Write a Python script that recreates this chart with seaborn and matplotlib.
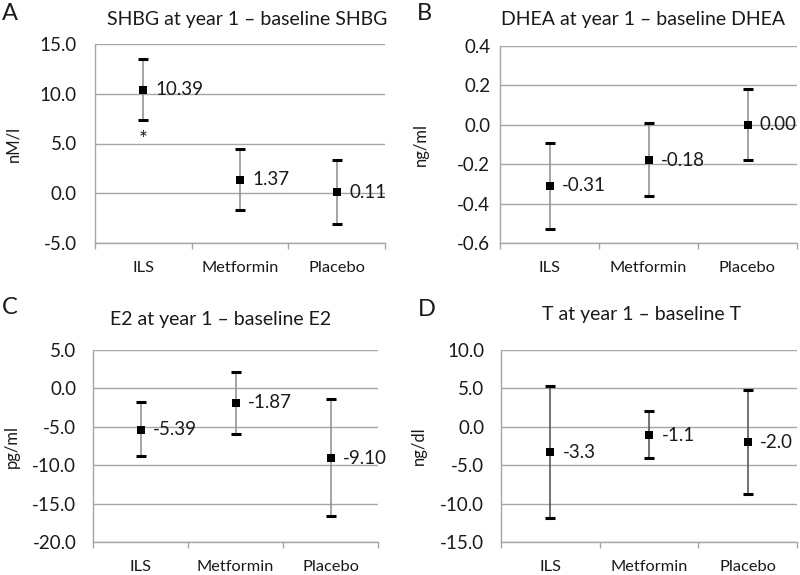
import numpy as np
import pandas as pd
import matplotlib
matplotlib.use("Agg")
import matplotlib.pyplot as plt
from matplotlib.ticker import FuncFormatter, MultipleLocator, FixedLocator
import seaborn as sns

# treatment groups
groups = ["ILS", "Metformin", "Placebo"]

# A: SHBG change (nM/l)
shbg_mean = [10.39, 1.37, 0.11]
shbg_low = [7.35, -1.65, -3.10]
shbg_high = [13.45, 4.40, 3.35]

# B: DHEA change (ng/ml)
dhea_mean = [-0.31, -0.18, 0.00]
dhea_low = [-0.53, -0.36, -0.18]
dhea_high = [-0.09, 0.01, 0.18]

# C: E2 change (pg/ml)
e2_mean = [-5.39, -1.87, -9.10]
e2_low = [-8.8, -5.9, -16.6]
e2_high = [-1.8, 2.2, -1.4]

# D: T change (ng/dl)
t_mean = [-3.3, -1.1, -2.0]
t_low = [-11.9, -4.1, -8.7]
t_high = [5.3, 2.0, 4.8]

sns.set_theme(style="white")
plt.rcParams['font.family'] = ['Lato', 'DejaVu Sans']

W, H = 800, 575
fig = plt.figure(figsize=(8, 5.75), dpi=100)

grid_col = '#a6a6a6'
txt_col = '#1a1a1a'


def px_axes(left, top, right, bottom):
    return fig.add_axes([left / W, 1 - bottom / H, (right - left) / W, (bottom - top) / H])


def panel(ax, mean, low, high, ylim, step, ylabel, fmt, ypad, ylab_x, bar_col):
    df = pd.DataFrame({"group": groups, "mean": mean, "low": low, "high": high})
    # grey whisker
    ax.vlines(df["group"], df["low"], df["high"], color=bar_col, lw=1.1, zorder=2)
    # black caps
    ax.plot(df["group"], df["low"], ls='none', marker='_', ms=6.5, mew=2.2, color='black', zorder=3)
    ax.plot(df["group"], df["high"], ls='none', marker='_', ms=6.5, mew=2.2, color='black', zorder=3)
    sns.scatterplot(data=df, x="group", y="mean", marker='s', s=38, color='black',
                    edgecolor='black', linewidth=0, ax=ax, zorder=4)
    for g, m in zip(df["group"], df["mean"]):
        ax.annotate(fmt.format(m), (g, m), xytext=(9, 0), textcoords='offset points',
                    ha='left', va='center', fontsize=13.5, color=txt_col)

    ax.set_xlim(-0.5, 2.5)
    ax.set_ylim(*ylim)
    ax.yaxis.set_major_locator(MultipleLocator(step))
    ax.yaxis.set_major_formatter(FuncFormatter(lambda v, p: f"{v:.1f}"))
    ax.grid(axis='y', color=grid_col, lw=1)
    ax.grid(axis='x', visible=False)
    ax.set_axisbelow(True)
    for s in ['top', 'right']:
        ax.spines[s].set_visible(False)
    for s in ['left', 'bottom']:
        ax.spines[s].set_color(grid_col)
        ax.spines[s].set_linewidth(1)
    ax.xaxis.set_minor_locator(FixedLocator([-0.5, 0.5, 1.5, 2.5]))
    ax.tick_params(axis='x', which='minor', bottom=True, length=4, width=1, color=grid_col)
    ax.tick_params(axis='x', which='major', bottom=False, length=0, pad=13,
                   labelsize=11.8, labelcolor=txt_col)
    ax.tick_params(axis='y', left=False, length=0, pad=ypad, labelsize=13.5, labelcolor=txt_col)
    ax.set_xlabel("")
    ax.set_ylabel(ylabel, fontsize=12, color=txt_col)
    ax.yaxis.set_label_coords(ylab_x, 0.5)


axA = px_axes(95, 44, 385, 243)
panel(axA, shbg_mean, shbg_low, shbg_high, (-5, 15), 5, "nM/l", "{:.2f}", 13, -0.255, '#8c8c8c')
axA.annotate('*', (groups[0], shbg_low[0]), xytext=(0, -7), textcoords='offset points',
             ha='center', va='top', fontsize=15, color=txt_col)

axB = px_axes(500, 46, 797, 243)
panel(axB, dhea_mean, dhea_low, dhea_high, (-0.6, 0.4), 0.2, "ng/ml", "{:.2f}", 7, -0.24, '#8c8c8c')

axC = px_axes(93, 350, 378, 542)
panel(axC, e2_mean, e2_low, e2_high, (-20, 5), 5, "pg/ml", "{:.2f}", 12, -0.255, '#8c8c8c')

axD = px_axes(501, 350, 797, 542)
panel(axD, t_mean, t_low, t_high, (-15, 10), 5, "ng/dl", "{:.1f}", 12, -0.25, '#4d4d4d')

# panel titles and letters
title_fs = 14
fig.text(247 / W, 1 - 20 / H, "SHBG at year 1 \u2013 baseline SHBG", ha='center', va='center',
         fontsize=title_fs, color=txt_col)
fig.text(643 / W, 1 - 20 / H, "DHEA at year 1 \u2013 baseline DHEA", ha='center', va='center',
         fontsize=title_fs, color=txt_col)
fig.text(221 / W, 1 - 319 / H, "E2 at year 1 \u2013 baseline E2", ha='center', va='center',
         fontsize=title_fs, color=txt_col)
fig.text(642 / W, 1 - 315 / H, "T at year 1 \u2013 baseline T", ha='center', va='center',
         fontsize=title_fs, color=txt_col)

for letter, x, y in [("A", 2, 13), ("B", 417, 14), ("C", 2, 307), ("D", 418, 309)]:
    fig.text(x / W, 1 - y / H, letter, ha='left', va='center', fontsize=17, color=txt_col)

fig.savefig("out.png", dpi=100, facecolor='white')
